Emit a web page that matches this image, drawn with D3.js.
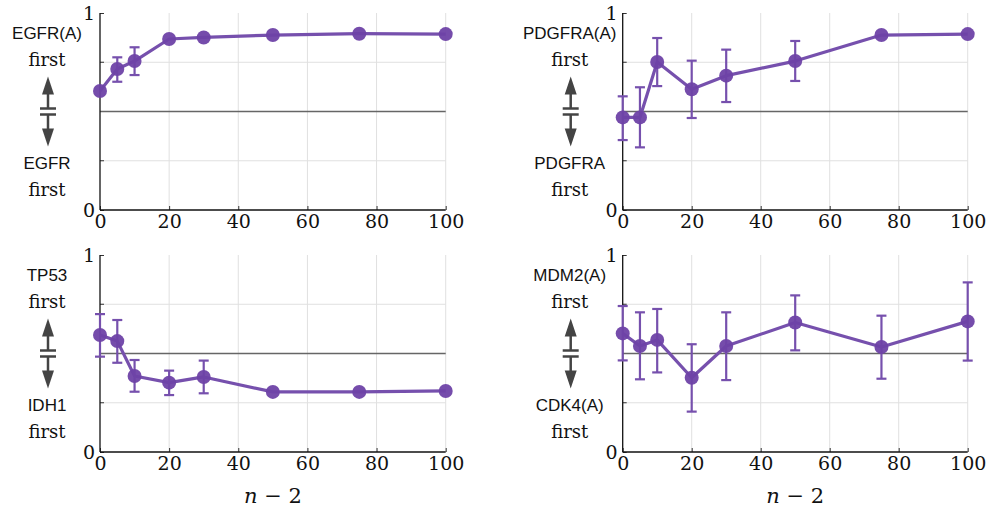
<!DOCTYPE html>
<html><head><meta charset="utf-8">
<script src="https://cdn.jsdelivr.net/npm/d3@7"></script>
<style>body{margin:0;background:#fff}svg{display:block}</style>
</head><body>
<script>
const xValues = [0, 5, 10, 20, 30, 50, 75, 100];
const xTicks = [0, 20, 40, 60, 80, 100];
const yTickLabels = ["0", "1"];

const egfrMean = [0.604, 0.716, 0.756, 0.868, 0.876, 0.888, 0.895, 0.893];
const egfrLow  = [null, 0.651, 0.685, null, null, null, null, null];
const egfrHigh = [null, 0.775, 0.826, null, null, null, null, null];

const pdgfraMean = [0.470, 0.470, 0.751, 0.613, 0.682, 0.756, 0.888, 0.893];
const pdgfraLow  = [0.355, 0.318, 0.629, 0.467, 0.548, 0.655, null, null];
const pdgfraHigh = [0.577, 0.623, 0.873, 0.758, 0.814, 0.858, null, null];

const tp53Mean = [0.594, 0.563, 0.386, 0.352, 0.381, 0.305, 0.305, 0.310];
const tp53Low  = [0.484, 0.453, 0.306, 0.289, 0.298, null, null, null];
const tp53High = [0.700, 0.670, 0.467, 0.413, 0.464, null, null, null];

const mdm2Mean = [0.602, 0.538, 0.569, 0.377, 0.538, 0.657, 0.533, 0.663];
const mdm2Low  = [0.465, 0.369, 0.404, 0.205, 0.365, 0.516, 0.372, 0.464];
const mdm2High = [0.741, 0.709, 0.726, 0.547, 0.709, 0.795, 0.692, 0.861];

const panelTopLabels = ["EGFR(A)", "PDGFRA(A)", "TP53", "MDM2(A)"];
const panelBottomLabels = ["EGFR", "PDGFRA", "IDH1", "CDK4(A)"];
const xAxisTitle = ["n", " − 2"];

const panels = [
  {mean: egfrMean, low: egfrLow, high: egfrHigh, top: panelTopLabels[0], bot: panelBottomLabels[0], x0: 100, x1: 445.7, y0: 13, y1: 210, title: false},
  {mean: pdgfraMean, low: pdgfraLow, high: pdgfraHigh, top: panelTopLabels[1], bot: panelBottomLabels[1], x0: 622.7, x1: 967.7, y0: 13, y1: 210, title: false},
  {mean: tp53Mean, low: tp53Low, high: tp53High, top: panelTopLabels[2], bot: panelBottomLabels[2], x0: 100, x1: 445.7, y0: 255, y1: 452, title: true},
  {mean: mdm2Mean, low: mdm2Low, high: mdm2High, top: panelTopLabels[3], bot: panelBottomLabels[3], x0: 622.7, x1: 967.7, y0: 255, y1: 452, title: true}
];

const W = 987, H = 511;
const purple = "#6e42a6";
const linePurple = "#7650ad";
const serif = "DejaVu Serif";
const sans = "Liberation Sans";

const svg = d3.select("body").append("svg").attr("width", W).attr("height", H);

panels.forEach(p => {
  const x = d3.scaleLinear().domain([0, 100]).range([p.x0, p.x1]);
  const y = d3.scaleLinear().domain([0, 1]).range([p.y1, p.y0]);
  const g = svg.append("g");

  g.append("g").selectAll("line.vg").data(xTicks.filter(d => d > 0)).join("line")
    .attr("x1", d => x(d)).attr("x2", d => x(d)).attr("y1", y(0)).attr("y2", y(1))
    .attr("stroke", "#e0e0e0").attr("stroke-width", 1);
  g.append("g").selectAll("line.hg").data([0.25, 0.75]).join("line")
    .attr("x1", x(0)).attr("x2", x(100)).attr("y1", d => y(d)).attr("y2", d => y(d))
    .attr("stroke", "#e0e0e0").attr("stroke-width", 1);

  g.append("line").attr("x1", x(0)).attr("x2", x(100)).attr("y1", y(0.5)).attr("y2", y(0.5))
    .attr("stroke", "#666").attr("stroke-width", 1.5);

  const xAxis = d3.axisBottom(x).tickValues(xTicks).tickSize(-4).tickPadding(5).tickFormat(d3.format("d"));
  const xa = g.append("g").attr("transform", `translate(0,${y(0)})`).call(xAxis);
  xa.select(".domain").remove();
  xa.selectAll("text").style("font-family", serif).style("font-size", "19px").attr("fill", "#111");
  xa.selectAll("line").attr("stroke", "#333");

  const yAxis = d3.axisLeft(y).tickValues([0, 1]).tickSize(-4).tickPadding(5).tickFormat((d, i) => yTickLabels[i]);
  const ya = g.append("g").attr("transform", `translate(${x(0)},0)`).call(yAxis);
  ya.select(".domain").remove();
  ya.selectAll("text").style("font-family", serif).style("font-size", "19px").attr("fill", "#111").attr("dy", "0.32em");
  ya.selectAll("line").attr("stroke", "#333");
  g.append("g").selectAll("line").data([0.25, 0.75]).join("line")
    .attr("x1", x(0)).attr("x2", x(0) + 4).attr("y1", d => y(d)).attr("y2", d => y(d)).attr("stroke", "#333");

  g.append("line").attr("x1", x(0)).attr("x2", x(0)).attr("y1", y(0)).attr("y2", y(1)).attr("stroke", "#111").attr("stroke-width", 1.3);
  g.append("line").attr("x1", x(0)).attr("x2", x(100)).attr("y1", y(0)).attr("y2", y(0)).attr("stroke", "#111").attr("stroke-width", 1.3);

  const lx = p.x0 - 53;
  const t = (txt, yy, fam, fs) => g.append("text").attr("x", lx).attr("y", yy).attr("text-anchor", "middle")
    .attr("dominant-baseline", "central").style("font-family", fam).style("font-size", fs + "px").attr("fill", "#111").text(txt);
  t(p.top, p.y0 + 20, sans, 17);
  t("first", p.y0 + 46, serif, 18);
  t(p.bot, p.y0 + 150, sans, 17);
  t("first", p.y0 + 176, serif, 18);

  const ax = lx + 1, ac = "#444";
  const ym = y(0.5);
  g.append("path").attr("d", `M${ax},${ym - 35} L${ax + 6},${ym - 17} L${ax - 6},${ym - 17} Z`).attr("fill", ac);
  g.append("line").attr("x1", ax).attr("x2", ax).attr("y1", ym - 18).attr("y2", ym - 3).attr("stroke", ac).attr("stroke-width", 2.5);
  g.append("line").attr("x1", ax - 8).attr("x2", ax + 8).attr("y1", ym - 3).attr("y2", ym - 3).attr("stroke", ac).attr("stroke-width", 2.5);
  g.append("line").attr("x1", ax - 8).attr("x2", ax + 8).attr("y1", ym + 3).attr("y2", ym + 3).attr("stroke", ac).attr("stroke-width", 2.5);
  g.append("line").attr("x1", ax).attr("x2", ax).attr("y1", ym + 3).attr("y2", ym + 18).attr("stroke", ac).attr("stroke-width", 2.5);
  g.append("path").attr("d", `M${ax},${ym + 35} L${ax + 6},${ym + 17} L${ax - 6},${ym + 17} Z`).attr("fill", ac);

  const pts = xValues.map((xv, i) => ({x: xv, m: p.mean[i], lo: p.low[i], hi: p.high[i]}));
  g.append("path").datum(pts).attr("fill", "none").attr("stroke", linePurple)
    .attr("stroke-width", 3.2).attr("stroke-linejoin", "round")
    .attr("d", d3.line().x(d => x(d.x)).y(d => y(d.m)));

  const eb = pts.filter(d => d.lo !== null);
  const eg = g.append("g").attr("stroke", linePurple).attr("stroke-width", 2.2);
  eg.selectAll("line.v").data(eb).join("line").attr("x1", d => x(d.x)).attr("x2", d => x(d.x)).attr("y1", d => y(d.lo)).attr("y2", d => y(d.hi));
  eg.selectAll("line.lo").data(eb).join("line").attr("x1", d => x(d.x) - 5).attr("x2", d => x(d.x) + 5).attr("y1", d => y(d.lo)).attr("y2", d => y(d.lo));
  eg.selectAll("line.hi").data(eb).join("line").attr("x1", d => x(d.x) - 5).attr("x2", d => x(d.x) + 5).attr("y1", d => y(d.hi)).attr("y2", d => y(d.hi));

  g.selectAll("circle").data(pts).join("circle").attr("cx", d => x(d.x)).attr("cy", d => y(d.m)).attr("r", 7)
    .attr("fill", purple).attr("fill-opacity", 0.95);

  if (p.title) {
    const tt = g.append("text").attr("x", (p.x0 + p.x1) / 2).attr("y", 496).attr("text-anchor", "middle")
      .attr("dominant-baseline", "central").style("font-family", serif).style("font-size", "21px").attr("fill", "#111");
    tt.append("tspan").attr("font-style", "italic").text(xAxisTitle[0]);
    tt.append("tspan").text(xAxisTitle[1]);
  }
});
</script>
</body></html>
